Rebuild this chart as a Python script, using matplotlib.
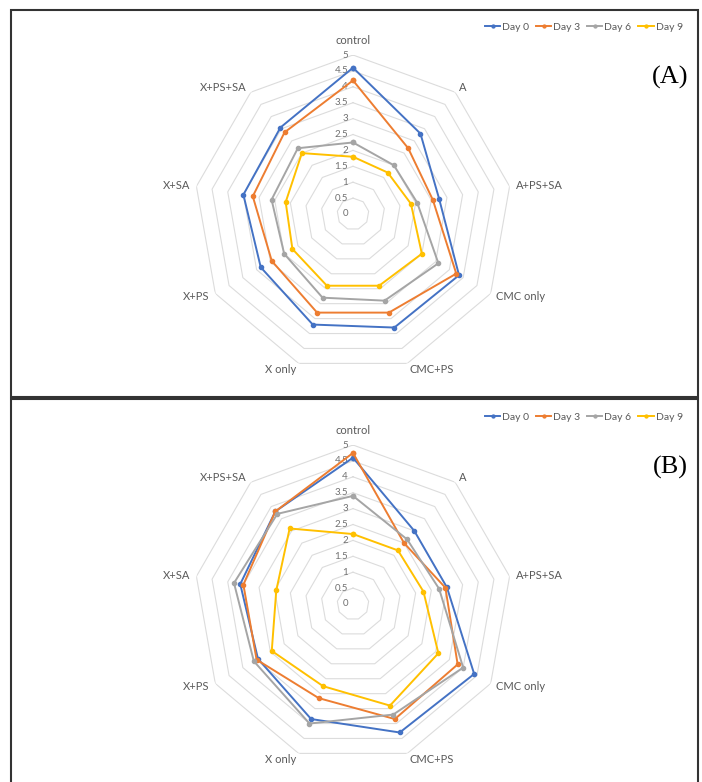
import numpy as np
import matplotlib
matplotlib.use('Agg')
import matplotlib.pyplot as plt
from matplotlib.patches import Rectangle

plt.rcParams['font.family'] = ['Lato', 'DejaVu Sans']

# Kategorie (zgodnie z ruchem wskazówek zegara od góry)
kategorie = ['control', 'A', 'A+PS+SA', 'CMC only', 'CMC+PS',
             'X only', 'X+PS', 'X+SA', 'X+PS+SA']
serie = ['Day 0', 'Day 3', 'Day 6', 'Day 9']
kolory = ['#4472C4', '#ED7D31', '#A5A5A5', '#FFC000']
skala = [0, 0.5, 1, 1.5, 2, 2.5, 3, 3.5, 4, 4.5, 5]

# Wykres (A)
day0_a = [4.6, 3.3, 2.75, 3.85, 3.8, 3.7, 3.35, 3.5, 3.55]
day3_a = [4.2, 2.7, 2.55, 3.75, 3.3, 3.3, 2.95, 3.2, 3.35]
day6_a = [2.25, 2.0, 2.05, 3.1, 2.9, 2.8, 2.5, 2.6, 2.7]
day9_a = [1.8, 1.7, 1.85, 2.5, 2.4, 2.4, 2.2, 2.15, 2.5]

# Wykres (B)
day0_b = [4.6, 3.0, 3.0, 4.4, 4.3, 3.85, 3.45, 3.6, 3.8]
day3_b = [4.75, 2.5, 2.95, 3.8, 3.85, 3.15, 3.5, 3.5, 3.8]
day6_b = [3.4, 2.65, 2.75, 4.0, 3.7, 4.0, 3.6, 3.8, 3.7]
day9_b = [2.2, 2.2, 2.25, 3.1, 3.4, 2.75, 2.95, 2.45, 3.1]

W, H = 702, 782
fig = plt.figure(figsize=(W / 100, H / 100), dpi=100)

katy = np.linspace(0, 2 * np.pi, len(kategorie), endpoint=False)
katy_zamk = np.append(katy, katy[0])
szary_tekst = '#595959'


def radar(cy, dane, litera):
    r_px = 159
    cx = 353
    ax = fig.add_axes([(cx - r_px) / W, (H - cy - r_px) / H, 2 * r_px / W, 2 * r_px / H],
                      projection='polar')
    ax.set_theta_zero_location('N')
    ax.set_theta_direction(-1)
    ax.set_ylim(0, 5)
    ax.grid(False)
    ax.spines['polar'].set_visible(False)
    ax.set_xticks([])
    ax.set_yticks([])
    ax.patch.set_alpha(0)

    # siatka wielokątna (bez szprych)
    for r in skala[1:]:
        ax.plot(katy_zamk, [r] * len(katy_zamk), color='#DCDCDC', lw=0.8, zorder=1)

    # etykiety skali
    for r in skala:
        ax.annotate(f'{r:g}', xy=(0, r), xytext=(-5, 0), textcoords='offset pixels',
                    ha='right', va='center', fontsize=7, color='#707070', zorder=2)

    # etykiety kategorii
    for t, nazwa in zip(katy, kategorie):
        s = np.sin(t)
        if abs(s) < 0.1:
            ax.text(t, 5.45, nazwa, ha='center', va='center', fontsize=8, color=szary_tekst)
        else:
            ax.text(t, 5.2, nazwa, ha='left' if s > 0 else 'right', va='center',
                    fontsize=8, color=szary_tekst)

    linie = []
    for wartosci, nazwa, kol in zip(dane, serie, kolory):
        w = np.append(wartosci, wartosci[0])
        ln, = ax.plot(katy_zamk, w, color=kol, lw=1.4, marker='o', markersize=3,
                      label=nazwa, zorder=3, clip_on=False)
        linie.append(ln)

    fig.legend(handles=linie, loc='center right',
               bbox_to_anchor=(690 / W, 1 - (cy - 187) / H),
               ncol=4, frameon=False, fontsize=7.5, handlelength=1.5,
               handletextpad=0.2, columnspacing=0.6, labelcolor=szary_tekst,
               markerscale=0.7, borderpad=0.2)

    fig.text(670 / W, 1 - (cy - 137) / H, litera, ha='center', va='center',
             fontsize=19, family='Liberation Serif', color='black')


radar(214, [day0_a, day3_a, day6_a, day9_a], '(A)')
radar(604, [day0_b, day3_b, day6_b, day9_b], '(B)')

# ramki paneli
fig.patches.append(Rectangle((11 / W, 1 - 397 / H), 687 / W, 387 / H,
                             transform=fig.transFigure, fill=False,
                             edgecolor='#333333', lw=1.5))
fig.patches.append(Rectangle((11 / W, -0.05), 687 / W, 1 - 399 / H + 0.05,
                             transform=fig.transFigure, fill=False,
                             edgecolor='#333333', lw=1.5))

fig.savefig('out.png', dpi=100)
